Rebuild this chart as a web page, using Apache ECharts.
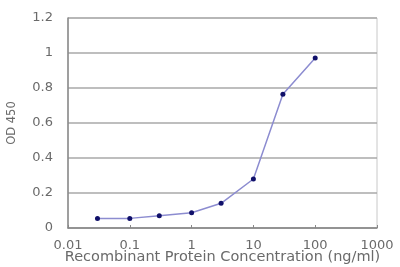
<!DOCTYPE html>
<html><head><meta charset="utf-8">
<script src="https://cdn.jsdelivr.net/npm/echarts@6/dist/echarts.min.js"></script>
<style>html,body{margin:0;padding:0;background:#fff}#c{width:400px;height:267px}</style>
</head><body><div id="c"></div>
<script>
const concentrations = [0.03, 0.1, 0.3, 1, 3, 10, 30, 100];
const odValues = [0.055, 0.055, 0.07, 0.087, 0.141, 0.28, 0.764, 0.971];
const xTitle = 'Recombinant Protein Concentration (ng/ml)';
const yTitle = 'OD 450';

const chart = echarts.init(document.getElementById('c'), null, {renderer: 'canvas'});
chart.setOption({
  animation: false,
  grid: {left: 68, right: 23, top: 18, bottom: 39, show: true, borderColor: '#c8c8c8', borderWidth: 1,
    containLabel: false, outerBoundsMode: 'none'},
  xAxis: {
    type: 'log', logBase: 10, min: 0.01, max: 1000,
    name: xTitle, nameLocation: 'middle', nameGap: 22, nameMoveOverlap: false,
    nameTextStyle: {color: '#6a6a6a', fontFamily: 'DejaVu Sans', fontSize: 14.5},
    axisLine: {lineStyle: {color: '#888', width: 1.5}},
    axisTick: {inside: true, length: 3, lineStyle: {color: '#888'}},
    axisLabel: {color: '#6a6a6a', fontFamily: 'DejaVu Sans', fontSize: 13, margin: 11,
      formatter: v => String(+v.toPrecision(3))},
    splitLine: {show: false}, minorTick: {show: false}
  },
  yAxis: {
    type: 'value', min: 0, max: 1.2, interval: 0.2,
    name: yTitle, nameLocation: 'middle', nameGap: 50,
    nameTextStyle: {color: '#6a6a6a', fontFamily: 'DejaVu Sans', fontSize: 11.5},
    axisLine: {show: true, lineStyle: {color: '#888', width: 1.5}},
    axisTick: {show: false},
    axisLabel: {color: '#6a6a6a', fontFamily: 'DejaVu Sans', fontSize: 13, margin: 15,
      formatter: v => String(+v.toFixed(1))},
    splitLine: {lineStyle: {color: '#a8a8a8', width: 1.5}}
  },
  series: [{
    type: 'line',
    data: concentrations.map((c, i) => [c, odValues[i]]),
    symbol: 'circle', symbolSize: 5,
    itemStyle: {color: '#10106a'},
    lineStyle: {color: '#8c8cd0', width: 1.5}
  }]
});
</script></body></html>
